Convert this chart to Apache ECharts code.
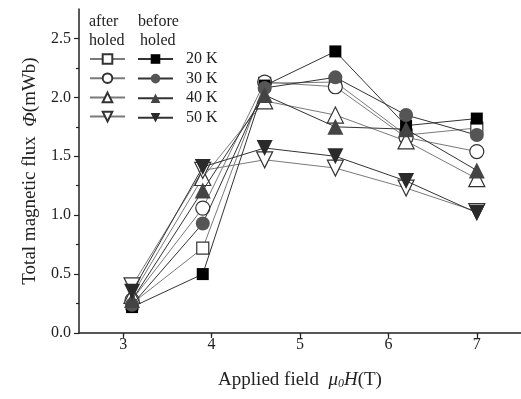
<!DOCTYPE html>
<html>
<head>
<meta charset="utf-8">
<script src="https://cdn.jsdelivr.net/npm/echarts@6/dist/echarts.min.js"></script>
<style>
  html, body { margin: 0; padding: 0; background: #fff; }
  #chart { width: 521px; height: 399px; }
</style>
</head>
<body>
<div id="chart"></div>
<script>
var fieldValues = [3.1, 3.9, 4.6, 5.4, 6.2, 7.0];

var after20 = [0.25, 0.72, 2.12, 2.13, 1.68, 1.74];
var after30 = [0.28, 1.06, 2.13, 2.09, 1.66, 1.54];
var after40 = [0.32, 1.32, 1.97, 1.85, 1.63, 1.31];
var after50 = [0.40, 1.38, 1.47, 1.40, 1.23, 1.03];

var before20 = [0.22, 0.50, 2.10, 2.39, 1.76, 1.82];
var before30 = [0.24, 0.93, 2.08, 2.17, 1.85, 1.68];
var before40 = [0.28, 1.21, 2.02, 1.75, 1.73, 1.38];
var before50 = [0.35, 1.41, 1.57, 1.50, 1.29, 1.02];

var temps = ['20 K', '30 K', '40 K', '50 K'];

var chart = echarts.init(document.getElementById('chart'));
var serif = 'Liberation Serif';

function pairs(vals) {
  return fieldValues.map(function (x, i) { return [x, vals[i]]; });
}

// symbol, size, rotate per temperature
var shapes = [
  { symbol: 'rect', size: 12, rotate: 0, fill: '#000' },
  { symbol: 'circle', size: 14, rotate: 0, fill: '#555' },
  { symbol: 'triangle', size: 16, rotate: 0, fill: '#444' },
  { symbol: 'triangle', size: 16, rotate: 180, fill: '#2a2a2a' }
];

function makeSeries(name, vals, shape, after) {
  return {
    name: name,
    type: 'line',
    data: pairs(vals),
    symbol: shape.symbol,
    symbolSize: shape.size,
    symbolRotate: shape.rotate,
    z: after ? 2 : 3,
    lineStyle: { color: after ? '#7a7a7a' : '#333', width: 1 },
    itemStyle: {
      color: after ? '#fff' : shape.fill,
      borderColor: after ? '#333' : shape.fill,
      borderWidth: after ? 1.2 : 0
    },
    emphasis: { disabled: true },
    animation: false
  };
}

var afterSets = [after20, after30, after40, after50];
var beforeSets = [before20, before30, before40, before50];
var series = [];
temps.forEach(function (t, i) {
  series.push(makeSeries(t + ' after', afterSets[i], shapes[i], true));
});
temps.forEach(function (t, i) {
  series.push(makeSeries(t + ' before', beforeSets[i], shapes[i], false));
});

var option = {
  backgroundColor: '#fff',
  textStyle: { fontFamily: serif },
  grid: { left: 79, right: 0, top: 9, bottom: 66 },
  legend: [
    {
      data: temps.map(function (t) { return t + ' after'; }),
      orient: 'vertical',
      left: 84,
      top: 48,
      itemWidth: 35,
      itemHeight: 12,
      itemGap: 7.4,
      selectedMode: false,
      formatter: function () { return ''; },
      textStyle: { fontSize: 16 }
    },
    {
      data: temps.map(function (t) { return t + ' before'; }),
      orient: 'vertical',
      left: 132,
      top: 46,
      itemWidth: 35,
      itemHeight: 12,
      itemGap: 3.6,
      selectedMode: false,
      formatter: function (name) { return name.replace(' before', ''); },
      textStyle: { fontSize: 16, color: '#222', fontFamily: serif, padding: [0, 0, 0, 8] }
    }
  ],
  graphic: [
    { type: 'text', left: 89, top: 14, style: { text: 'after', font: '16px "Liberation Serif"', fill: '#222' } },
    { type: 'text', left: 89, top: 33, style: { text: 'holed', font: '16px "Liberation Serif"', fill: '#222' } },
    { type: 'text', left: 138, top: 14, style: { text: 'before', font: '16px "Liberation Serif"', fill: '#222' } },
    { type: 'text', left: 140, top: 33, style: { text: 'holed', font: '16px "Liberation Serif"', fill: '#222' } }
  ],
  xAxis: {
    type: 'value',
    min: 2.5,
    max: 7.5,
    interval: 1,
    splitLine: { show: false },
    axisLine: { onZero: false, lineStyle: { color: '#222', width: 1.5 } },
    axisTick: { show: true, length: 5, lineStyle: { color: '#222', width: 1.2 }, customValues: [3, 4, 5, 6, 7] },
    minorTick: { show: true, splitNumber: 2, length: 3, lineStyle: { color: '#222', width: 1.2 } },
    axisLabel: { color: '#222', fontSize: 16, margin: 4, fontFamily: serif, customValues: [3, 4, 5, 6, 7] },
    name: 'Applied field  {i|μ}{s|0}{i|H}(T)',
    nameLocation: 'middle',
    nameGap: 37,
    nameTextStyle: {
      fontSize: 19, color: '#222', fontFamily: serif,
      rich: {
        i: { fontSize: 19, fontStyle: 'italic', fontFamily: serif, color: '#222' },
        s: { fontSize: 12, fontStyle: 'italic', fontFamily: serif, color: '#222', verticalAlign: 'bottom', padding: [8, 0, 0, 0] }
      }
    }
  },
  yAxis: {
    type: 'value',
    min: 0,
    max: 2.75,
    interval: 0.5,
    splitLine: { show: false },
    axisLine: { show: true, lineStyle: { color: '#222', width: 1.5 } },
    axisTick: { show: true, length: 5, lineStyle: { color: '#222', width: 1.2 }, customValues: [0, 0.5, 1, 1.5, 2, 2.5] },
    minorTick: { show: true, splitNumber: 2, length: 3, lineStyle: { color: '#222', width: 1.2 } },
    axisLabel: {
      color: '#222', fontSize: 16, margin: 8, fontFamily: serif,
      customValues: [0, 0.5, 1, 1.5, 2, 2.5],
      formatter: function (v) { return v.toFixed(1); }
    },
    name: 'Total magnetic flux  {i|Φ}(mWb)',
    nameLocation: 'middle',
    nameGap: 39,
    nameTextStyle: {
      fontSize: 19, color: '#222', fontFamily: serif,
      rich: { i: { fontSize: 19, fontStyle: 'italic', fontFamily: serif, color: '#222' } }
    }
  },
  series: series
};

chart.setOption(option);
</script>
</body>
</html>
